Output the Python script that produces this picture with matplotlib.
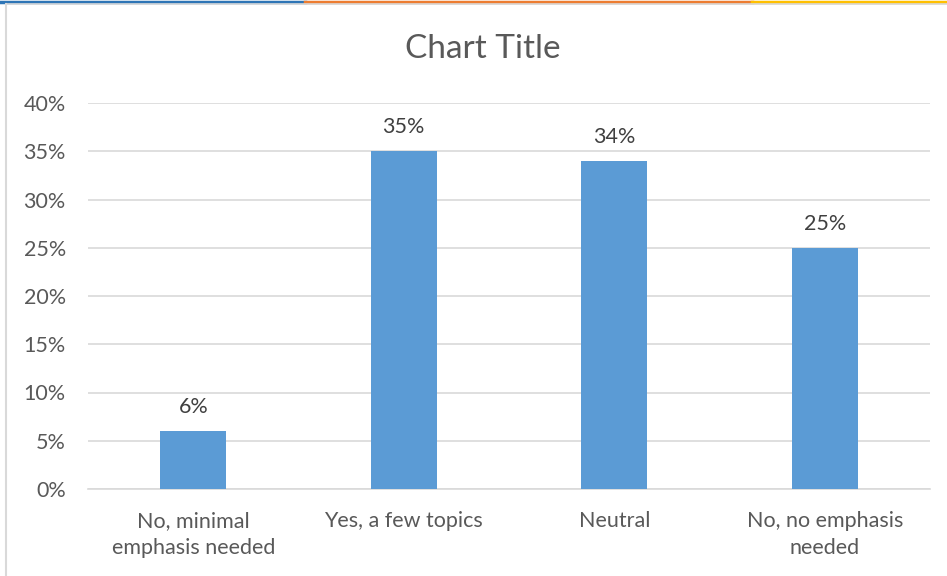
import numpy as np
from matplotlib import pyplot as plt
from matplotlib.lines import Line2D

categories = ["No, minimal\nemphasis needed", "Yes, a few topics", "Neutral", "No, no emphasis\nneeded"]
values = [0.06, 0.35, 0.34, 0.25]
bar_labels = ["6%", "35%", "34%", "25%"]
y_ticks = [0, 0.05, 0.10, 0.15, 0.20, 0.25, 0.30, 0.35, 0.40]
y_tick_labels = ["0%", "5%", "10%", "15%", "20%", "25%", "30%", "35%", "40%"]

plt.rcParams['font.family'] = ['Lato', 'DejaVu Sans']
text_color = '#595959'

fig = plt.figure(figsize=(9.47, 5.76), dpi=100)
ax = fig.add_axes([88 / 947, 1 - 489 / 576, 842 / 947, 386 / 576])

x = np.arange(len(categories))
rects = ax.bar(x, values, 0.315, color='#5B9BD5', zorder=3)
ax.bar_label(rects, labels=bar_labels, padding=10, fontsize=15.5, color='#404040')

ax.set_xlim(-0.5, len(categories) - 0.5)
ax.set_ylim(0, 0.40)
ax.set_yticks(y_ticks, y_tick_labels)
ax.set_xticks(x, categories)
ax.tick_params(axis='both', length=0, labelsize=15.5, labelcolor=text_color)
ax.tick_params(axis='y', pad=16)
ax.tick_params(axis='x', pad=16)
for lbl in ax.get_xticklabels():
    lbl.set_linespacing(1.45)
ax.grid(axis='y', color='#D9D9D9', linewidth=1.2, zorder=0)
for side in ['top', 'right', 'left']:
    ax.spines[side].set_visible(False)
ax.spines['bottom'].set_color('#D9D9D9')
ax.spines['bottom'].set_linewidth(1.2)

fig.text(483 / 947, 1 - 49 / 576, "Chart Title", ha='center', va='center', fontsize=24, color=text_color)

# window frame bits from the screenshot
fig.add_artist(Line2D([0, 305 / 947], [1 - 1.5 / 576] * 2, color='#2E75B6', lw=2.5))
fig.add_artist(Line2D([305 / 947, 752 / 947], [1 - 1.5 / 576] * 2, color='#ED7D31', lw=2.5))
fig.add_artist(Line2D([752 / 947, 1], [1 - 1.5 / 576] * 2, color='#FFC000', lw=2.5))
fig.add_artist(Line2D([6 / 947, 1], [1 - 4 / 576] * 2, color='#D9D9D9', lw=1.2))
fig.add_artist(Line2D([6 / 947, 6 / 947], [0, 1 - 4 / 576], color='#D9D9D9', lw=1.5))

plt.savefig('out.png', dpi=100)
